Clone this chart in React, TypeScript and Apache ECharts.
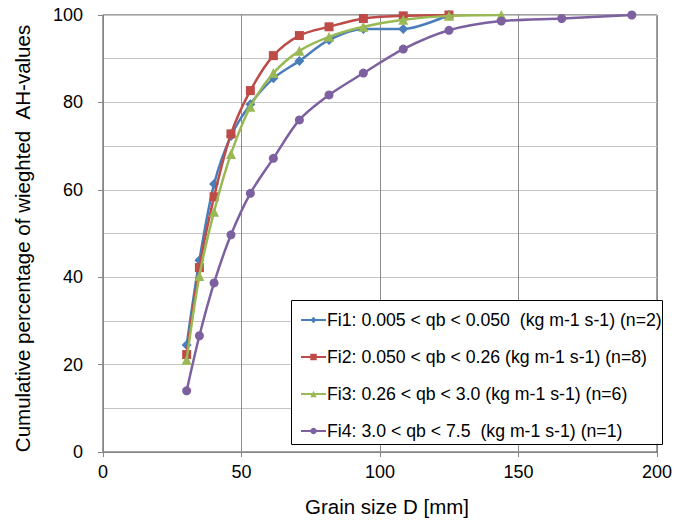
import React, { useEffect, useRef } from "react";
import * as echarts from "echarts";

const grainSizes = [30.2, 34.8, 40.1, 46.2, 53.2, 61.5, 70.9, 81.6, 94.0, 108.4, 124.9, 143.8, 165.6, 190.9];
const fi1Values = [24.5, 43.9, 61.3, 72.3, 79.6, 85.5, 89.5, 94.3, 96.8, 96.8, 100];
const fi2Values = [22.3, 42.2, 58.4, 72.8, 82.7, 90.7, 95.3, 97.3, 99.2, 99.8, 100];
const fi3Values = [21.1, 40.3, 55.0, 68.2, 79.0, 86.7, 91.8, 95.0, 97.3, 98.9, 99.8, 100];
const fi4Values = [14.0, 26.6, 38.7, 49.7, 59.2, 67.2, 76.0, 81.7, 86.7, 92.2, 96.5, 98.6, 99.2, 100];

const seriesNames = [
  "Fi1: 0.005 < qb < 0.050 \u00a0(kg m-1 s-1) (n=2)",
  "Fi2: 0.050 < qb < 0.26 (kg m-1 s-1) (n=8)",
  "Fi3: 0.26 < qb < 3.0 (kg m-1 s-1) (n=6)",
  "Fi4: 3.0 < qb < 7.5 \u00a0(kg m-1 s-1) (n=1)",
];
const seriesColors = ["#4A7EBB", "#BE4B48", "#98B954", "#7D60A0"];
const seriesSymbols = ["diamond", "rect", "triangle", "circle"];
const seriesSymbolSizes = [10, 9, 10, 9];

const xAxisTitle = "Grain size D [mm]";
const yAxisTitle = "Cumulative percentage of wieghted \u00a0AH-values";

const FONT = "Liberation Sans, Arial, sans-serif";

export default function App() {
  const ref = useRef<HTMLDivElement>(null);
  useEffect(() => {
    if (!ref.current) return;
    const chart = echarts.init(ref.current, null, { renderer: "svg" });
    const allValues = [fi1Values, fi2Values, fi3Values, fi4Values];
    const series = allValues.map((vals, i) => ({
      name: seriesNames[i],
      type: "line",
      data: vals.map((v, j) => [grainSizes[j], v]),
      smooth: 0.3,
      symbol: seriesSymbols[i],
      symbolSize: seriesSymbolSizes[i],
      showAllSymbol: true,
      lineStyle: { color: seriesColors[i], width: 2.5 },
      itemStyle: { color: seriesColors[i] },
      z: 3 + i,
    }));
    chart.setOption({
      animation: false,
      textStyle: { fontFamily: FONT, color: "#000" },
      grid: {
        left: 103,
        right: 31,
        top: 15,
        bottom: 70,
        show: true,
        borderColor: "#404040",
        borderWidth: 1,
        backgroundColor: "transparent",
      },
      xAxis: {
        type: "value",
        min: 0,
        max: 200,
        interval: 50,
        name: xAxisTitle,
        nameLocation: "middle",
        nameGap: 44,
        nameTextStyle: { fontSize: 20.5, color: "#000", fontFamily: FONT, padding: [0, 0, 0, 14] },
        axisLine: { show: true, onZero: false, lineStyle: { color: "#868686", width: 1 } },
        axisTick: { show: true, inside: false, length: 5, lineStyle: { color: "#868686" } },
        axisLabel: { fontSize: 18, color: "#000", margin: 11, fontFamily: FONT },
        splitLine: { show: true, lineStyle: { color: "#8c8c8c", width: 1 } },
      },
      yAxis: {
        type: "value",
        min: 0,
        max: 100,
        interval: 20,
        name: yAxisTitle,
        nameLocation: "middle",
        nameGap: 70,
        nameTextStyle: { fontSize: 20.5, color: "#000", fontFamily: FONT, padding: [0, 10, 0, 0] },
        axisLine: { show: true, lineStyle: { color: "#868686", width: 1 } },
        axisTick: { show: true, inside: false, length: 5, lineStyle: { color: "#868686" } },
        axisLabel: { fontSize: 18, color: "#000", margin: 20, fontFamily: FONT },
        splitLine: { show: true, lineStyle: { color: "#c4c4c4", width: 1 } },
        minorTick: { show: false, splitNumber: 2 },
        minorSplitLine: { show: true, lineStyle: { color: "#c4c4c4", width: 1 } },
      },
      graphic: [
        {
          type: "rect",
          z: 50,
          shape: { x: 291.5, y: 300.5, width: 371, height: 144 },
          style: { fill: "#fff", stroke: "#000", lineWidth: 1 },
        },
      ],
      legend: {
        orient: "vertical",
        left: 291,
        top: 300,
        padding: [11, 10, 9, 9],
        itemGap: 19,
        itemWidth: 25,
        itemHeight: 8,
        z: 60,
        textStyle: { fontSize: 17.7, color: "#000", fontFamily: FONT, padding: [0, 0, 0, -4] },
        data: seriesNames,
      },
      series,
    });
    return () => chart.dispose();
  }, []);
  return (
    <div
      ref={ref}
      style={{ position: "fixed", left: 0, top: 0, width: 688, height: 522, background: "#fff" }}
    />
  );
}
